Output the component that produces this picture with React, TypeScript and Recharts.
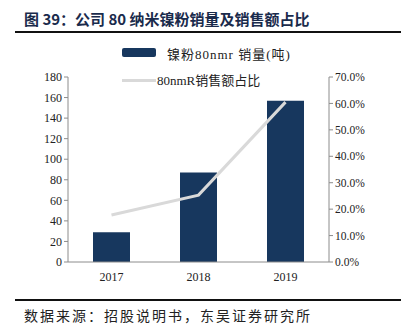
import { ComposedChart, Bar, Line, XAxis, YAxis } from "recharts";

const years = ["2017", "2018", "2019"];
const volume = [29, 87, 157];
const shareOfSales = [0.178, 0.253, 0.605];
const leftTicks = [0, 20, 40, 60, 80, 100, 120, 140, 160, 180];
const rightTicks = [0, 0.1, 0.2, 0.3, 0.4, 0.5, 0.6, 0.7];

const data = years.map((y, i) => ({ year: y, volume: volume[i], share: shareOfSales[i] }));

const serif = "'Liberation Serif', 'Noto Sans CJK SC', serif";
const axisColor = "#8c8c8c";
const tickStyle = { fontSize: 12, fill: "#222", fontFamily: serif };
const rightTickStyle = { fontSize: 11.5, fill: "#222", fontFamily: serif };

export default function App() {
  return (
    <div style={{ position: "relative", width: 401, height: 331, background: "#fff", fontFamily: serif }}>
      <style>{`body{margin:0}`}</style>
      <div
        style={{
          position: "absolute",
          left: 24,
          top: 8,
          fontSize: 15,
          fontWeight: "bold",
          color: "#1a2b4c",
          fontFamily: "'Noto Sans CJK SC', sans-serif",
          whiteSpace: "nowrap",
        }}
      >
        图 39：公司 80 纳米镍粉销量及销售额占比
      </div>
      <div style={{ position: "absolute", left: 15, right: 0, top: 31, height: 2, background: "#111" }} />

      <div style={{ position: "absolute", left: 122, top: 48, width: 34, height: 9, background: "#17375e", borderRadius: 2 }} />
      <div style={{ position: "absolute", left: 167, top: 44, fontSize: 13, color: "#222", whiteSpace: "nowrap", letterSpacing: 1 }}>
        镍粉80nmr 销量(吨)
      </div>
      <div style={{ position: "absolute", left: 122, top: 79, width: 34, height: 3, background: "#d9d9d9" }} />
      <div style={{ position: "absolute", left: 157, top: 70, fontSize: 13, color: "#222", whiteSpace: "nowrap" }}>
        80nmR销售额占比
      </div>

      <ComposedChart
        width={401}
        height={331}
        data={data}
        margin={{ top: 77, right: 12, bottom: 39, left: 8 }}
        style={{ position: "absolute", left: 0, top: 0 }}
      >
        <XAxis
          dataKey="year"
          height={30}
          tick={tickStyle}
          tickLine={false}
          axisLine={{ stroke: axisColor }}
          dy={2}
        />
        <YAxis
          yAxisId="left"
          width={60}
          domain={[0, 180]}
          ticks={leftTicks}
          tick={tickStyle}
          tickSize={4}
          tickLine={{ stroke: axisColor }}
          axisLine={{ stroke: axisColor }}
          interval={0}
        />
        <YAxis
          yAxisId="right"
          orientation="right"
          width={60}
          domain={[0, 0.7]}
          ticks={rightTicks}
          tickFormatter={(v: number) => `${(v * 100).toFixed(1)}%`}
          tick={rightTickStyle}
          tickSize={4}
          tickLine={{ stroke: axisColor }}
          axisLine={{ stroke: axisColor }}
          interval={0}
        />
        <Bar yAxisId="left" dataKey="volume" fill="#17375e" barSize={37} isAnimationActive={false} />
        <Line
          yAxisId="right"
          dataKey="share"
          stroke="#d9d9d9"
          strokeWidth={3}
          dot={false}
          type="linear"
          isAnimationActive={false}
        />
      </ComposedChart>

      <div style={{ position: "absolute", left: 15, right: 0, top: 299, height: 1.5, background: "#111" }} />
      <div
        style={{
          position: "absolute",
          left: 24,
          top: 305,
          fontSize: 14,
          letterSpacing: 2,
          color: "#222",
          fontFamily: "'Noto Sans CJK SC', sans-serif",
          whiteSpace: "nowrap",
        }}
      >
        数据来源：招股说明书，东吴证券研究所
      </div>
    </div>
  );
}
